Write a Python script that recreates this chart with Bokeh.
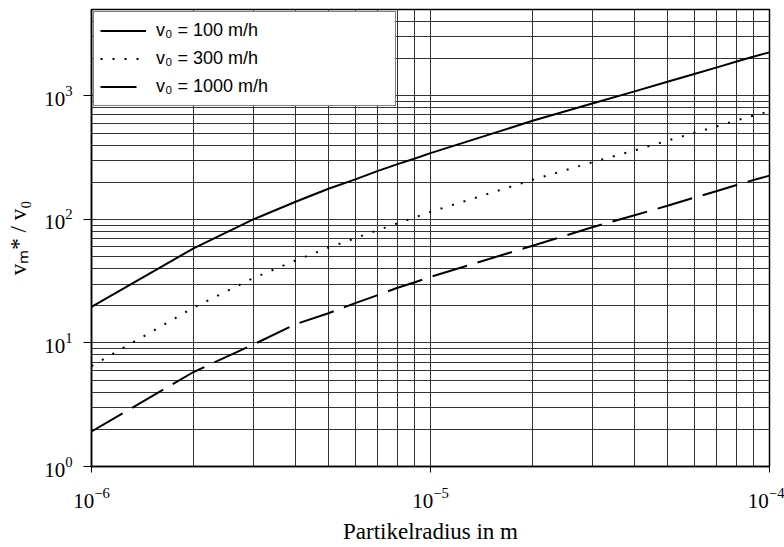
from bokeh.plotting import figure
from bokeh.models import FixedTicker, Legend, LegendItem
from bokeh.embed import file_html
from bokeh.resources import INLINE

# ---- data ----
radius_m = [1e-6, 2e-6, 3e-6, 4e-6, 5e-6, 6e-6, 7e-6, 8e-6, 9e-6,
            1e-5, 2e-5, 3e-5, 4e-5, 5e-5, 6e-5, 7e-5, 8e-5, 9e-5, 1e-4]
ratio_v100 = [19.6, 58.3, 100, 139, 177, 211, 247, 280, 311,
              344, 628, 868, 1087, 1300, 1505, 1700, 1895, 2085, 2250]
ratio_v300 = [6.5, 19.3, 33.5, 46.5, 59, 70.5, 82, 93, 104,
              115, 209, 290, 362, 434, 502, 567, 632, 695, 750]
ratio_v1000 = [1.92, 5.82, 9.7, 14.2, 17.4, 21, 24.4, 28, 31,
               34.3, 61.2, 86.3, 108, 129, 150, 170, 190, 209, 226]
series_labels = ["v\u2080 = 100 m/h", "v\u2080 = 300 m/h", "v\u2080 = 1000 m/h"]
x_major_ticks = [1e-6, 1e-5, 1e-4]
y_major_ticks = [1, 10, 100, 1000]
x_axis_title = "Partikelradius in m"
y_axis_title = "v\u2098* / v\u2080"

x_minor_ticks = [m * 10.0 ** e for e in range(-6, -4) for m in range(2, 10)]
y_minor_ticks = [m * 10.0 ** e for e in range(0, 4) for m in range(2, 10)]

p = figure(width=784, height=547, x_axis_type="log", y_axis_type="log",
           x_range=(1e-6, 1e-4), y_range=(1, 5000),
           output_backend="svg", toolbar_location=None,
           min_border_left=91, min_border_right=15,
           min_border_top=9, min_border_bottom=81)
p.background_fill_color = "white"
p.border_fill_color = "white"
p.outline_line_color = "black"
p.outline_line_width = 1.5

p.xaxis.ticker = FixedTicker(ticks=x_major_ticks, minor_ticks=x_minor_ticks)
p.yaxis.ticker = FixedTicker(ticks=y_major_ticks, minor_ticks=y_minor_ticks)

for ax in (p.xaxis[0], p.yaxis[0]):
    ax.axis_line_color = "black"
    ax.axis_line_width = 1.5
    ax.major_tick_line_color = "black"
    ax.major_tick_line_width = 1
    ax.major_tick_in = 0
    ax.minor_tick_in = 0
    ax.minor_tick_out = 0
    ax.major_label_text_font = "Liberation Serif"
    ax.major_label_text_font_size = "21px"
    ax.major_label_text_color = "black"
    ax.axis_label_text_font = "Liberation Serif"
    ax.axis_label_text_font_size = "23px"
    ax.axis_label_text_font_style = "normal"
    ax.axis_label_text_color = "black"

p.xaxis.major_tick_out = 6
p.yaxis.major_tick_out = 8
p.xaxis.major_label_standoff = 15
p.yaxis.major_label_standoff = 11
p.xaxis.axis_label = x_axis_title
p.yaxis.axis_label = y_axis_title
p.xaxis.axis_label_standoff = 8
p.yaxis.axis_label_standoff = 10

for g in (p.xgrid[0], p.ygrid[0]):
    g.grid_line_color = "#333333"
    g.grid_line_width = 1
    g.minor_grid_line_color = "#333333"
    g.minor_grid_line_width = 1

r1 = p.line(radius_m, ratio_v100, line_color="black", line_width=2)
r2 = p.line(radius_m, ratio_v300, line_color="black", line_width=2,
            line_dash="2 10")
r3 = p.line(radius_m, ratio_v1000, line_color="black", line_width=2,
            line_dash="36 11")

legend = Legend(items=[LegendItem(label=series_labels[0], renderers=[r1]),
                       LegendItem(label=series_labels[1], renderers=[r2]),
                       LegendItem(label=series_labels[2], renderers=[r3])],
                location="top_left", margin=2, padding=6, spacing=3,
                glyph_width=46, glyph_height=25, label_standoff=10,
                label_width=233, label_height=25,
                label_text_font="Liberation Sans", label_text_font_size="18px",
                label_text_color="black",
                border_line_color="black", border_line_width=1,
                background_fill_color="white", background_fill_alpha=1)
p.add_layout(legend)

open("out.html", "w").write(file_html(p, INLINE))
